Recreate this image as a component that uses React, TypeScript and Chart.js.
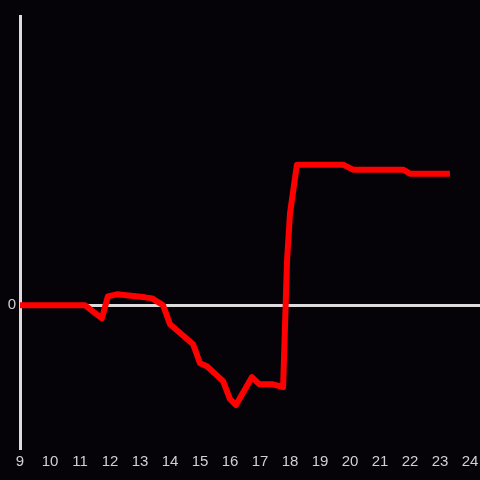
import React, { useEffect, useRef } from "react";
import { Chart, registerables } from "chart.js";

Chart.register(...registerables);

const hours = [9, 11.17, 11.73, 11.93, 12.23, 13.17, 13.4, 13.77, 14.0, 14.77, 15.0, 15.23, 15.77, 16.0, 16.2, 16.73, 16.97, 17.4, 17.77, 17.9, 18.0, 18.23, 19.77, 20.1, 21.77, 22.0, 23.33];
const values = [0, 0, -1.3, 0.9, 1.1, 0.8, 0.7, 0, -1.9, -3.9, -5.8, -6.1, -7.6, -9.4, -10.0, -7.2, -7.9, -7.9, -8.2, 4.4, 9.2, 14.1, 14.1, 13.6, 13.6, 13.2, 13.2];
const xTicks = [9, 10, 11, 12, 13, 14, 15, 16, 17, 18, 19, 20, 21, 22, 23, 24];
const yTicks = [0];

export default function App() {
  const ref = useRef<HTMLCanvasElement | null>(null);
  useEffect(() => {
    document.body.style.margin = "0";
    document.body.style.background = "#050307";
    const canvas = ref.current!;
    const chart = new Chart(canvas, {
      type: "line",
      data: {
        datasets: [
          {
            data: hours.map((h, i) => ({ x: h, y: values[i] })),
            borderColor: "#ff0000",
            borderWidth: 6,
            pointRadius: 0,
            tension: 0,
            borderJoinStyle: "round",
            borderCapStyle: "butt",
          },
        ],
      },
      options: {
        responsive: false,
        animation: false,
        layout: { padding: { top: 16, right: -4, left: 0, bottom: 0 } },
        plugins: { legend: { display: false }, tooltip: { enabled: false } },
        scales: {
          x: {
            type: "linear",
            min: 9,
            max: 24.333,
            afterBuildTicks: (s: any) => {
              s.ticks = xTicks.map((v) => ({ value: v }));
            },
            afterFit: (s: any) => {
              s.height = 32;
            },
            grid: { display: false },
            border: { display: false },
            ticks: {
              color: "#d0d0d0",
              font: { family: "Liberation Sans", size: 15 },
              padding: -3,
              maxRotation: 0,
              autoSkip: false,
            },
          },
          y: {
            type: "linear",
            min: -14.3,
            max: 29.0,
            afterBuildTicks: (s: any) => {
              s.ticks = yTicks.map((v) => ({ value: v }));
            },
            afterFit: (s: any) => {
              s.width = 20;
            },
            grid: {
              drawTicks: false,
              lineWidth: 3,
              color: (c: any) => (c.tick && c.tick.value === 0 ? "#dcdcdc" : "transparent"),
            },
            border: { display: true, color: "#dcdcdc", width: 3 },
            ticks: {
              color: "#d0d0d0",
              font: { family: "Liberation Sans", size: 15 },
              padding: 4,
            },
          },
        },
      },
    });
    return () => chart.destroy();
  }, []);
  return (
    <div style={{ width: 480, height: 480, background: "#050307" }}>
      <canvas ref={ref} width={480} height={480} style={{ display: "block" }} />
    </div>
  );
}
